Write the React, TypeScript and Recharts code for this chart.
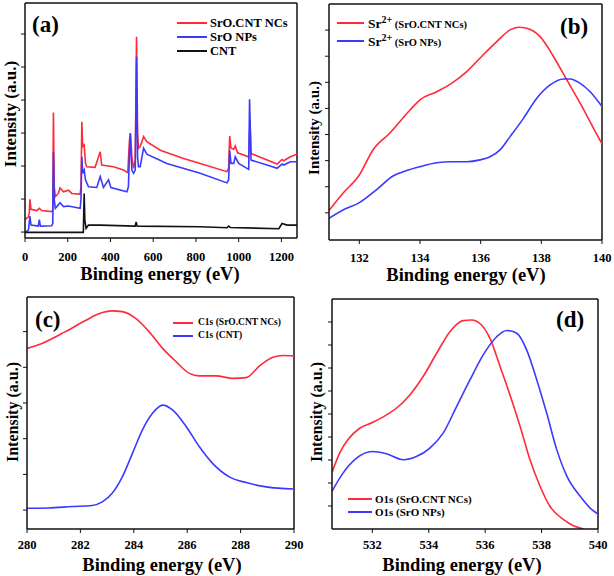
import React from "react";
import { LineChart, Line, XAxis, YAxis, ReferenceLine } from "recharts";

type Pt = [number, number];

const FONT = '"Liberation Serif", "Times New Roman", serif';
const INK = "#111";
const RED = "#ff2a3a";
const BLUE = "#3a3aff";
const BLACK = "#111";

// (a) survey spectra: [binding energy eV, intensity a.u.]
const surveyNCs: Pt[] = [
  [0, 0.38], [16, 0.46], [20, 0.57], [23, 0.99], [28, 0.69], [55, 0.65], [67, 0.72], [78, 0.65],
  [125, 0.62], [130, 0.67], [133, 3.62], [137, 1.37], [142, 1.07], [156, 1.17], [164, 1.34],
  [180, 1.22], [203, 1.27], [219, 1.17], [258, 1.15], [262, 1.37], [266, 3.34], [270, 2.59],
  [277, 2.64], [283, 2.08], [289, 1.98], [328, 1.96], [352, 2.43], [359, 2.03], [414, 1.98],
  [461, 1.88], [481, 1.8], [489, 2.79], [494, 2.99], [500, 2.28], [508, 1.93], [516, 2.18],
  [522, 5.92], [527, 2.99], [531, 2.54], [539, 2.59], [555, 2.89], [570, 2.74], [633, 2.48],
  [742, 2.23], [820, 2.08], [945, 1.83], [953, 1.93], [958, 2.91], [964, 2.54], [977, 2.51],
  [984, 2.61], [995, 2.4], [1039, 2.3], [1047, 2.26], [1050, 2.79], [1053, 3.39], [1058, 2.38],
  [1133, 2.18], [1180, 2.06], [1203, 2.2], [1211, 2.16], [1242, 2.28], [1273, 2.36],
];
const surveyNPs: Pt[] = [
  [0, -0.01], [16, 0.06], [23, 0.48], [28, 0.21], [62, 0.18], [67, 0.38], [72, 0.18],
  [125, 0.19], [130, 0.26], [133, 2.43], [137, 0.97], [142, 0.72], [164, 0.89], [180, 0.77],
  [203, 0.79], [258, 0.72], [262, 0.97], [266, 2.28], [270, 1.78], [277, 1.88], [283, 1.58],
  [297, 1.37], [336, 1.35], [352, 1.68], [367, 1.35], [391, 1.58], [402, 1.35], [477, 1.22],
  [484, 1.37], [492, 2.99], [500, 1.88], [508, 1.78], [516, 1.88], [522, 5.31], [527, 2.28],
  [531, 1.98], [539, 1.98], [555, 2.54], [570, 2.36], [664, 2.08], [820, 1.78], [945, 1.49],
  [953, 1.58], [958, 2.48], [964, 2.08], [977, 2.08], [984, 2.28], [1000, 2.08], [1039, 1.93],
  [1047, 1.9], [1051, 4.02], [1058, 2.18], [1133, 2.03], [1180, 1.93], [1203, 2.06],
  [1211, 2.03], [1242, 2.13], [1273, 2.13],
];
const surveyCNT: Pt[] = [
  [0, -0.01], [273, -0.01], [277, 1.17], [280, 0.36], [286, 0.11], [297, 0.21], [352, 0.21],
  [516, 0.18], [520, 0.31], [525, 0.18], [820, 0.16], [945, 0.13], [953, 0.18], [961, 0.14],
  [1188, 0.1], [1203, 0.26], [1227, 0.21], [1273, 0.21],
];

// (b) Sr 3d region
const srNCs: Pt[] = [
  [131, 1.09], [131.46, 1.75], [132, 2.45], [132.45, 3.41], [133, 4.05], [133.67, 4.94],
  [134, 5.33], [134.55, 5.64], [135.04, 5.96], [135.54, 6.41], [136.03, 6.99], [136.53, 7.56],
  [136.97, 8.01], [137.24, 8.11], [137.52, 8.07], [137.96, 7.75], [138.4, 6.99], [138.84, 6.09],
  [139.28, 5.2], [139.72, 4.24], [140, 3.64],
];
const srNPs: Pt[] = [
  [131, 0.79], [131.46, 1.11], [132, 1.39], [132.56, 1.88], [133.11, 2.41], [133.56, 2.62],
  [134, 2.77], [134.55, 2.92], [135.04, 2.96], [135.54, 2.96], [135.98, 3.03], [136.31, 3.15],
  [136.64, 3.41], [136.97, 3.92], [137.41, 4.62], [137.85, 5.39], [138.29, 5.9], [138.73, 6.13],
  [138.95, 6.13], [139.28, 5.96], [139.61, 5.64], [140, 5.07],
];

// (c) C 1s region
const c1sNCs: Pt[] = [
  [280, 4.53], [280.56, 4.67], [281.44, 5.0], [282.19, 5.31], [282.69, 5.5], [283.19, 5.58],
  [283.57, 5.56], [284.07, 5.37], [284.57, 5.0], [285.08, 4.53], [285.58, 4.16], [286.08, 3.83],
  [286.45, 3.76], [287.08, 3.76], [287.71, 3.69], [288.21, 3.71], [288.71, 4.04], [289.21, 4.28],
  [289.59, 4.33], [290, 4.32],
];
const c1sCNT: Pt[] = [
  [280, 0.05], [280.81, 0.06], [281.69, 0.1], [282.44, 0.13], [282.82, 0.23], [283.19, 0.47],
  [283.57, 0.93], [283.95, 1.59], [284.32, 2.24], [284.7, 2.71], [285.08, 2.94], [285.46, 2.8],
  [285.96, 2.34], [286.45, 1.78], [286.95, 1.31], [287.58, 0.93], [288.21, 0.77], [288.96, 0.65],
  [290, 0.59],
];

// (d) O 1s region
const o1sNCs: Pt[] = [
  [530.57, 2.46], [530.84, 3.3], [531.13, 3.88], [531.55, 4.38], [532, 4.63], [532.5, 4.96],
  [532.85, 5.25], [533.33, 5.83], [533.8, 6.63], [534.28, 7.64], [534.75, 8.58], [535.22, 9.06],
  [535.52, 9.09], [535.87, 8.87], [536.17, 8.29], [536.53, 7.06], [536.88, 5.83], [537.24, 4.46],
  [537.59, 3.01], [537.95, 1.85], [538.3, 0.98], [538.78, 0.41], [539.13, 0.14], [539.49, 0.0],
];
const o1sNPs: Pt[] = [
  [530.57, 1.64], [530.96, 2.43], [531.44, 3.08], [532, 3.37], [532.5, 3.27], [533.09, 3.01],
  [533.56, 3.15], [534.04, 3.52], [534.51, 4.17], [534.99, 5.33], [535.46, 6.48], [535.93, 7.57],
  [536.41, 8.36], [536.76, 8.63], [537.12, 8.51], [537.47, 7.79], [537.83, 6.48], [538.18, 5.04],
  [538.54, 3.44], [538.9, 2.29], [539.37, 1.42], [539.72, 0.91], [540, 0.65],
];

const surveyTicks = [0, 200, 400, 600, 800, 1000, 1200];
const srTicks = [132, 134, 136, 138, 140];
const c1sTicks = [280, 282, 284, 286, 288, 290];
const o1sTicks = [532, 534, 536, 538, 540];

const YW = 6;
const XH = 34;

type Series = { name: React.ReactNode; color: string; data: Pt[] };
type Box = { left: number; top: number; width: number; height: number };
type Plot = { x0: number; x1: number; y0: number; y1: number };
type LegendCfg = { x: number; y: number; rowH: number; lineW: number; gap: number; size: number };

type PanelProps = {
  box: Box;
  plot: Plot;
  xDomain: [number, number];
  xTicks: number[];
  yDomain: [number, number];
  yTicks: number[];
  tickGap: number;
  curve: "linear" | "monotone";
  series: Series[];
  legend: LegendCfg;
  tag: { text: string; x: number; cy: number };
  xTitle: { cx: number; cy: number };
  yTitle: { cx: number; cy: number; size: number };
};

// y ticks carry no labels, only the small marks
const NoLabel = () => <g />;

function Panel(p: PanelProps) {
  const { box, plot } = p;
  const margin = {
    top: plot.y0 - box.top,
    right: box.left + box.width - plot.x1,
    bottom: box.top + box.height - plot.y1 - XH,
    left: plot.x0 - box.left - YW,
  };
  const bold = { fontFamily: FONT, fontWeight: 700, color: "#000", lineHeight: 1 } as const;
  return (
    <div style={{ position: "absolute", left: box.left, top: box.top, width: box.width, height: box.height }}>
      <LineChart width={box.width} height={box.height} margin={margin}>
        <XAxis
          type="number"
          dataKey="x"
          domain={p.xDomain}
          ticks={p.xTicks}
          interval={0}
          allowDataOverflow
          height={XH}
          tickSize={4}
          tickMargin={p.tickGap}
          axisLine={{ stroke: INK, strokeWidth: 1.5 }}
          tickLine={{ stroke: INK }}
          tick={{ fill: "#000", fontSize: 12.5, fontWeight: 700, fontFamily: FONT }}
        />
        <YAxis
          type="number"
          domain={p.yDomain}
          ticks={p.yTicks}
          interval={0}
          allowDataOverflow
          width={YW}
          tickSize={4}
          tick={NoLabel}
          axisLine={{ stroke: INK, strokeWidth: 1.5 }}
          tickLine={{ stroke: INK }}
        />
        <ReferenceLine x={p.xDomain[1]} stroke={INK} strokeWidth={1.5} />
        <ReferenceLine y={p.yDomain[1]} stroke={INK} strokeWidth={1.5} />
        {p.series.map((s, i) => (
          <Line
            key={i}
            data={s.data.map(([x, y]) => ({ x, y }))}
            dataKey="y"
            type={p.curve}
            stroke={s.color}
            strokeWidth={1.6}
            dot={false}
            activeDot={false}
            isAnimationActive={false}
          />
        ))}
      </LineChart>

      <div style={{ ...bold, position: "absolute", left: p.tag.x - box.left, top: p.tag.cy - box.top - 12, fontSize: 23 }}>
        {p.tag.text}
      </div>

      <div style={{ position: "absolute", left: p.legend.x - box.left, top: p.legend.y - box.top - p.legend.rowH / 2 }}>
        {p.series.map((s, i) => (
          <div key={i} style={{ display: "flex", alignItems: "center", height: p.legend.rowH }}>
            <div style={{ width: p.legend.lineW, height: 2, background: s.color, marginRight: p.legend.gap }} />
            <span style={{ ...bold, fontSize: p.legend.size, whiteSpace: "nowrap" }}>{s.name}</span>
          </div>
        ))}
      </div>

      <div
        style={{
          ...bold,
          position: "absolute",
          left: p.xTitle.cx - box.left,
          top: p.xTitle.cy - box.top,
          transform: "translate(-50%, -50%)",
          fontSize: 18.5,
          whiteSpace: "nowrap",
        }}
      >
        Binding energy (eV)
      </div>
      <div
        style={{
          ...bold,
          position: "absolute",
          left: p.yTitle.cx - box.left,
          top: p.yTitle.cy - box.top,
          transform: "translate(-50%, -50%) rotate(-90deg)",
          fontSize: p.yTitle.size,
          whiteSpace: "nowrap",
        }}
      >
        Intensity (a.u.)
      </div>
    </div>
  );
}

const srName = (sample: string) => (
  <>
    <span style={{ fontSize: 13.5 }}>Sr</span>
    <sup style={{ fontSize: 10, verticalAlign: "5px" }}>2+</sup>
    <span style={{ fontSize: 10.5 }}> ({sample})</span>
  </>
);

export default function App() {
  return (
    <div style={{ position: "absolute", left: 0, top: 0, width: 614, height: 576, background: "#fff", overflow: "hidden" }}>
      <Panel
        box={{ left: 0, top: 0, width: 307, height: 288 }}
        plot={{ x0: 25, x1: 297, y0: 3, y1: 238 }}
        xDomain={[0, 1273]}
        xTicks={surveyTicks}
        yDomain={[-0.18, 6.94]}
        yTicks={[0, 1, 2, 3, 4, 5, 6]}
        tickGap={10}
        curve="linear"
        series={[
          { name: "SrO.CNT NCs", color: RED, data: surveyNCs },
          { name: "SrO NPs", color: BLUE, data: surveyNPs },
          { name: "CNT", color: BLACK, data: surveyCNT },
        ]}
        legend={{ x: 177, y: 23, rowH: 14, lineW: 30, gap: 3, size: 12.5 }}
        tag={{ text: "(a)", x: 32, cy: 25 }}
        xTitle={{ cx: 160, cy: 274 }}
        yTitle={{ cx: 10, cy: 114, size: 17 }}
      />
      <Panel
        box={{ left: 307, top: 0, width: 307, height: 288 }}
        plot={{ x0: 329, x1: 602, y0: 4, y1: 240 }}
        xDomain={[131, 140]}
        xTicks={srTicks}
        yDomain={[-0.04, 9.0]}
        yTicks={[1, 2, 3, 4, 5, 6, 7, 8]}
        tickGap={9}
        curve="monotone"
        series={[
          { name: srName("SrO.CNT NCs"), color: RED, data: srNCs },
          { name: srName("SrO NPs"), color: BLUE, data: srNPs },
        ]}
        legend={{ x: 337, y: 23, rowH: 18, lineW: 27, gap: 4, size: 13 }}
        tag={{ text: "(b)", x: 560, cy: 27 }}
        xTitle={{ cx: 466, cy: 275 }}
        yTitle={{ cx: 314, cy: 128, size: 15 }}
      />
      <Panel
        box={{ left: 0, top: 288, width: 307, height: 288 }}
        plot={{ x0: 27, x1: 294, y0: 297, y1: 529 }}
        xDomain={[280, 290]}
        xTicks={c1sTicks}
        yDomain={[-0.53, 5.97]}
        yTicks={[0, 1, 2, 3, 4, 5]}
        tickGap={7}
        curve="monotone"
        series={[
          { name: "C1s (SrO.CNT NCs)", color: RED, data: c1sNCs },
          { name: "C1s (CNT)", color: BLUE, data: c1sCNT },
        ]}
        legend={{ x: 173, y: 323, rowH: 13, lineW: 20, gap: 5, size: 9.5 }}
        tag={{ text: "(c)", x: 35, cy: 320 }}
        xTitle={{ cx: 162, cy: 565 }}
        yTitle={{ cx: 13, cy: 412, size: 16 }}
      />
      <Panel
        box={{ left: 307, top: 288, width: 307, height: 288 }}
        plot={{ x0: 332, x1: 598, y0: 299, y1: 529 }}
        xDomain={[530.57, 540]}
        xTicks={o1sTicks}
        yDomain={[0, 10]}
        yTicks={[1, 2, 3, 4, 5, 6, 7, 8, 9]}
        tickGap={7}
        curve="monotone"
        series={[
          { name: "O1s (SrO.CNT NCs)", color: RED, data: o1sNCs },
          { name: "O1s (SrO NPs)", color: BLUE, data: o1sNPs },
        ]}
        legend={{ x: 348, y: 499, rowH: 13, lineW: 24, gap: 3, size: 11 }}
        tag={{ text: "(d)", x: 556, cy: 320 }}
        xTitle={{ cx: 462, cy: 565 }}
        yTitle={{ cx: 317, cy: 412, size: 16 }}
      />
    </div>
  );
}
